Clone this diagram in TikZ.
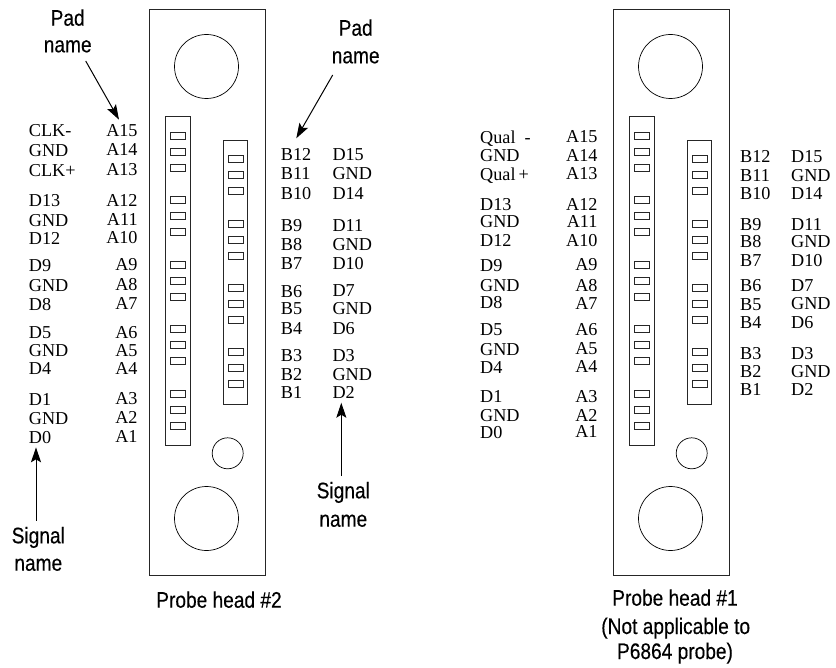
\documentclass[tikz,border=0pt]{standalone}
\usepackage{fontspec}
\usetikzlibrary{arrows.meta}
\setmainfont{Liberation Serif}
\newfontfamily\labfont[FakeStretch=0.85,FakeBold=0.35]{Liberation Sans}
\tikzset{
  x=1bp,y=-1bp,
  board/.style={draw=black!85,line width=0.9bp},
  hole/.style={draw=black,line width=0.7bp},
  pad/.style={draw=black!85,line width=0.9bp},
  pin/.style={inner sep=0pt,font=\fontsize{18.2bp}{20bp}\selectfont},
  pinl/.style={pin,anchor=base west},
  pinr/.style={pin,anchor=base east},
  lab/.style={inner sep=0pt,anchor=base,font=\labfont\fontsize{22.5bp}{24bp}\selectfont},
  ptr/.style={draw=black,line width=1bp,-{Stealth[length=15bp,width=10bp,inset=3bp]}},
}
\newcommand{\probebody}[2]{%
  \begin{scope}[shift={(#1,0)}]
    \node[board,minimum width=116bp,minimum height=566bp,inner sep=0pt] (body#2) at (207,292) {};
    \node[hole,circle,minimum size=64bp,inner sep=0pt] (holeT#2) at (206.5,66.5) {};
    \node[hole,circle,minimum size=64bp,inner sep=0pt] (holeB#2) at (206.5,518.5) {};
    \node[hole,circle,minimum size=31bp,inner sep=0pt] (holeS#2) at (227.7,453.3) {};
    \node[board,minimum width=24.5bp,minimum height=328.5bp,inner sep=0pt] (stripL#2) at (177.8,280.8) {};
    \node[board,minimum width=24.5bp,minimum height=263.7bp,inner sep=0pt] (stripR#2) at (235.5,272.2) {};
    \foreach \y [count=\i] in {136,152,168,200.3,216.3,232.3,264.7,280.7,297,329.3,345.3,361.3,393.7,410,426}
      \node[pad,minimum width=15bp,minimum height=7bp,inner sep=0pt] (padL#2-\i) at (178.2,\y) {};
    \foreach \y [count=\i] in {159,175,191,223.7,240,256,287.7,304,320.3,352.3,368.3,384.3}
      \node[pad,minimum width=15bp,minimum height=7bp,inner sep=0pt] (padR#2-\i) at (235.8,\y) {};
  \end{scope}}
\begin{document}
\begin{tikzpicture}
\useasboundingbox (0,0) rectangle (836,668);
\probebody{0}{a}
\probebody{464}{b}
% Probe head 2 texts
\foreach \t/\y [count=\i] in {CLK-/137,GND/157,CLK+/176,D13/206,GND/226,D12/244.5,D9/271.7,GND/291,D8/310.7,D5/338,GND/356.7,D4/374.7,D1/405,GND/424,D0/443}
  \node[pinl] (sa\i) at (28.7,\y) {\t};
\foreach \t/\y [count=\i] in {A15/137,A14/156,A13/175.7,A12/206,A11/225.3,A10/243.3,A9/270.7,A8/290,A7/309.3,A6/338,A5/356.7,A4/374.7,A3/404,A2/423.3,A1/442}
  \node[pinr] (pa\i) at (137.8,\y) {\t};
\foreach \t/\y [count=\i] in {B12/160.3,B11/179.3,B10/199.3,B9/231,B8/250.3,B7/269.7,B6/297,B5/314,B4/334,B3/361.3,B2/380,B1/398.3}
  \node[pinl] (qa\i) at (280.7,\y) {\t};
\foreach \t/\y [count=\i] in {D15/160.3,GND/179.3,D14/199.3,D11/231,GND/250.3,D10/269.7,D7/296,GND/314,D6/334,D3/361.3,GND/380,D2/398.3}
  \node[pinl] (ra\i) at (332.3,\y) {\t};
% Probe head 1 texts
\foreach \t/\y [count=\i] in {Qual\ \ -/143.3,GND/161.7,Qual\,+/180,D13/210,GND/227.7,D12/246.7,D9/271.7,GND/291.7,D8/308.3,D5/335,GND/355.7,D4/373.3,D1/402.7,GND/421.7,D0/438.3}
  \node[pinl] (sb\i) at (480,\y) {\t};
\foreach \t/\y [count=\i] in {A15/142.3,A14/161.3,A13/179.3,A12/210,A11/227.3,A10/246,A9/270.7,A8/291,A7/309,A6/335,A5/354.3,A4/372.7,A3/402.7,A2/421,A1/437.7}
  \node[pinr] (pb\i) at (597.7,\y) {\t};
\foreach \t/\y [count=\i] in {B12/162.7,B11/181,B10/199,B9/230,B8/247.7,B7/266,B6/291,B5/310,B4/328.3,B3/359,B2/377.3,B1/395.7}
  \node[pinl] (qb\i) at (740,\y) {\t};
\foreach \t/\y [count=\i] in {D15/162.7,GND/181,D14/199,D11/230,GND/247.7,D10/266,D7/291,GND/309.3,D6/328.3,D3/359,GND/377.3,D2/395.7}
  \node[pinl] (rb\i) at (791,\y) {\t};
% Callouts
\node[lab] (padA1) at (67.7,25.7) {Pad};
\node[lab] (padA2) at (67.7,52.3) {name};
\node[lab] (padB1) at (355.7,35.7) {Pad};
\node[lab] (padB2) at (355.7,63.3) {name};
\node[lab] (sigA1) at (38.3,543.3) {Signal};
\node[lab] (sigA2) at (38.3,570.7) {name};
\node[lab] (sigB1) at (343.3,498.3) {Signal};
\node[lab] (sigB2) at (343.3,526.7) {name};
\node[lab] (capA) at (219,607.7) {Probe head \#2};
\node[lab] (capB1) at (675,605.7) {Probe head \#1};
\node[lab] (capB2) at (675.7,634) {(Not applicable to};
\node[lab] (capB3) at (675,659) {P6864 probe)};
\coordinate (pa0) at (85.7,61);
\coordinate (pa00) at (119,119.7);
\coordinate (pq0) at (332.7,75);
\coordinate (pq00) at (296.3,138.3);
\coordinate (ss0) at (36,520.7);
\coordinate (ss00) at (36,447.3);
\coordinate (sr0) at (341.3,476);
\coordinate (sr00) at (341.3,402.7);
\draw[ptr] (pa0) -- (pa00);
\draw[ptr] (pq0) -- (pq00);
\draw[ptr] (ss0) -- (ss00);
\draw[ptr] (sr0) -- (sr00);
\end{tikzpicture}
\end{document}
